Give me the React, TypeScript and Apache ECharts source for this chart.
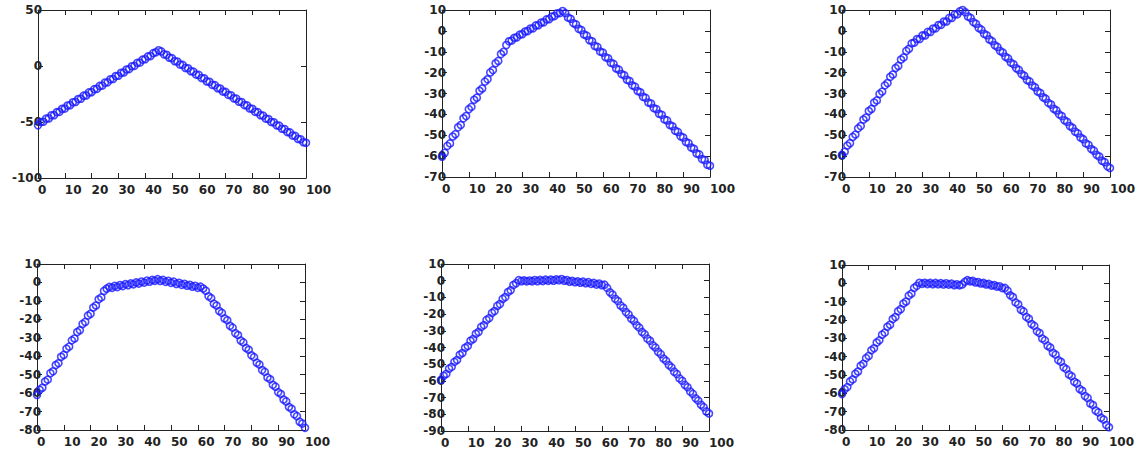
import React, { useEffect, useRef } from "react";
import * as echarts from "echarts";

const X_POS = [
  0, 1, 2, 3, 4, 5, 6, 7, 8, 9, 10, 11, 12, 13, 14, 15, 16, 17, 18, 19, 20,
  21, 22, 23, 24, 25, 26, 27, 28, 29, 30, 31, 32, 33, 34, 35, 36, 37, 38, 39, 40,
  41, 42, 43, 44, 45, 46, 47, 48, 49, 50, 51, 52, 53, 54, 55, 56, 57, 58, 59, 60,
  61, 62, 63, 64, 65, 66, 67, 68, 69, 70, 71, 72, 73, 74, 75, 76, 77, 78, 79, 80,
  81, 82, 83, 84, 85, 86, 87, 88, 89, 90, 91, 92, 93, 94, 95, 96, 97, 98, 99, 100,
];

const PLOT_TL = [
  -53.0, -50.0, -49.8, -47.0, -46.8, -44.0, -43.9, -41.2, -40.9, -38.2, -38.0,
  -35.3, -35.0, -32.4, -32.1, -29.5, -29.2, -26.5, -26.3, -23.6, -23.4,
  -20.7, -20.4, -17.8, -17.5, -14.8, -14.6, -11.9, -11.6, -9.0, -8.7,
  -6.0, -5.8, -3.1, -2.8, -0.2, 0.1, 2.8, 3.0, 5.7, 6.0,
  8.6, 8.9, 11.5, 12.2, 14.0, 13.0, 10.4, 10.0, 7.4, 7.0,
  4.3, 4.0, 1.3, 1.0, -1.7, -2.0, -4.7, -5.0, -7.7, -8.0,
  -10.7, -11.0, -13.8, -14.1, -16.8, -17.1, -19.8, -20.1, -22.8, -23.1,
  -25.8, -26.1, -28.9, -29.2, -31.9, -32.2, -34.9, -35.2, -37.9, -38.2,
  -40.9, -41.2, -43.9, -44.3, -47.0, -47.3, -50.0, -50.3, -53.0, -53.3,
  -56.0, -56.3, -59.0, -59.3, -62.1, -62.4, -65.1, -65.4, -68.1, -68.6,
];

const PLOT_TM = [
  -60.3, -58.4, -55.1, -53.9, -50.6, -49.5, -46.2, -45.1, -41.9, -40.8, -37.5,
  -36.4, -33.0, -32.0, -28.7, -27.6, -24.3, -23.2, -19.9, -18.8, -15.5,
  -14.4, -11.1, -10.0, -6.8, -5.0, -4.6, -3.3, -3.1, -1.8, -1.6,
  -0.3, -0.1, 1.1, 1.2, 2.6, 2.7, 4.0, 4.1, 5.5, 5.6,
  6.9, 7.1, 8.4, 8.5, 9.5, 8.5, 6.4, 5.8, 3.7, 3.1,
  1.0, 0.4, -1.7, -2.3, -4.5, -5.0, -7.2, -7.7, -9.9, -10.4,
  -12.6, -13.1, -15.3, -15.8, -18.0, -18.6, -20.7, -21.3, -23.4, -24.0,
  -26.1, -26.7, -28.8, -29.4, -31.6, -32.1, -34.3, -34.8, -37.0, -37.5,
  -39.7, -40.2, -42.4, -42.9, -45.1, -45.7, -47.8, -48.4, -50.5, -51.1,
  -53.2, -53.8, -55.9, -56.5, -58.7, -59.2, -61.4, -61.9, -64.1, -64.6,
];

const PLOT_TR = [
  -59.5, -57.9, -54.9, -53.8, -50.8, -49.7, -46.7, -45.6, -42.5, -41.5, -38.4,
  -37.4, -34.3, -33.3, -30.2, -29.1, -26.1, -25.0, -22.0, -20.9, -17.8,
  -16.8, -13.7, -12.7, -9.6, -8.6, -6.0, -5.6, -3.9, -3.9, -2.2,
  -2.2, -0.5, -0.5, 1.1, 1.2, 2.8, 2.9, 4.5, 4.5, 6.2,
  6.2, 7.9, 7.9, 9.4, 10.0, 8.9, 6.9, 6.2, 4.2, 3.4,
  1.4, 0.6, -1.4, -2.1, -4.1, -4.9, -6.9, -7.7, -9.6, -10.4,
  -12.4, -13.2, -15.2, -16.0, -17.9, -18.7, -20.7, -21.5, -23.5, -24.2,
  -26.2, -27.0, -29.0, -29.8, -31.8, -32.5, -34.5, -35.3, -37.3, -38.1,
  -40.0, -40.8, -42.8, -43.6, -45.6, -46.4, -48.3, -49.1, -51.1, -51.9,
  -53.9, -54.6, -56.6, -57.4, -59.4, -60.2, -62.2, -62.9, -64.9, -65.7,
];

const PLOT_BL = [
  -61.0, -58.2, -57.1, -53.7, -52.7, -49.2, -48.2, -44.8, -43.8, -40.3, -39.3,
  -35.9, -34.8, -31.4, -30.4, -26.9, -25.9, -22.5, -21.4, -18.0, -17.0,
  -13.6, -12.5, -9.1, -8.1, -4.6, -3.4, -2.4, -2.9, -1.9, -2.5,
  -1.4, -2.0, -0.9, -1.5, -0.5, -1.0, 0.0, -0.6, 0.5, -0.1,
  1.0, 0.4, 1.4, 0.9, 1.8, 0.8, 1.4, 0.3, 0.9, -0.2,
  0.4, -0.8, -0.2, -1.3, -0.7, -1.8, -1.3, -2.3, -1.8, -2.9,
  -2.3, -3.3, -4.5, -7.5, -8.5, -11.5, -12.5, -15.5, -16.5, -19.5,
  -20.5, -23.5, -24.5, -27.5, -28.5, -31.5, -32.5, -35.5, -36.5, -39.5,
  -40.5, -43.5, -44.5, -47.5, -48.5, -51.5, -52.5, -55.5, -56.5, -59.5,
  -60.5, -63.5, -64.5, -67.5, -68.5, -71.5, -72.5, -75.5, -76.5, -78.8,
];

const PLOT_BM = [
  -59.5, -56.9, -55.8, -52.7, -51.6, -48.6, -47.5, -44.4, -43.3, -40.2, -39.1,
  -36.0, -34.9, -31.8, -30.7, -27.7, -26.6, -23.5, -22.4, -19.3, -18.2,
  -15.1, -14.0, -10.9, -9.8, -6.8, -5.7, -2.6, -1.5, 0.3, -0.3,
  0.2, -0.4, 0.1, -0.4, 0.4, -0.3, 0.5, -0.2, 0.6, -0.1,
  0.6, 0.0, 0.8, 0.3, 1.0, 0.0, 0.4, -0.6, -0.1, -0.9,
  -0.4, -1.2, -0.6, -1.5, -0.9, -1.9, -1.3, -2.3, -1.7, -2.7,
  -2.4, -4.3, -6.9, -8.3, -10.8, -12.2, -14.8, -16.2, -18.8, -20.2,
  -22.8, -24.1, -26.7, -28.1, -30.7, -32.1, -34.7, -36.0, -38.6, -40.0,
  -42.6, -44.0, -46.6, -48.0, -50.5, -51.9, -54.5, -55.9, -58.5, -59.9,
  -62.4, -63.8, -66.4, -67.8, -70.4, -71.8, -74.3, -75.7, -78.3, -79.5,
];

const PLOT_BR = [
  -60.4, -57.8, -56.6, -53.5, -52.4, -49.3, -48.1, -45.0, -43.9, -40.8, -39.6,
  -36.5, -35.4, -32.3, -31.1, -28.0, -26.9, -23.7, -22.6, -19.5, -18.4,
  -15.2, -14.1, -11.0, -9.9, -6.7, -5.6, -2.5, -1.4, 0.3, -0.3,
  0.3, -0.4, 0.2, -0.5, 0.2, -0.5, 0.1, -0.6, 0.0, -0.7,
  -0.2, -1.0, -0.5, -1.1, -0.6, 0.8, 1.7, 1.1, 1.3, 0.5,
  0.7, -0.1, 0.2, -0.6, -0.3, -1.2, -0.9, -1.8, -1.6, -2.6,
  -2.5, -4.0, -6.5, -7.5, -10.4, -11.4, -14.4, -15.3, -18.3, -19.3,
  -22.2, -23.2, -26.2, -27.1, -30.1, -31.1, -34.0, -35.0, -37.9, -38.9,
  -41.9, -42.8, -45.8, -46.8, -49.7, -50.7, -53.7, -54.6, -57.6, -58.6,
  -61.5, -62.5, -65.5, -66.4, -69.4, -70.4, -73.3, -74.3, -77.3, -78.5,
];

const PLOTS = [PLOT_TL, PLOT_TM, PLOT_TR, PLOT_BL, PLOT_BM, PLOT_BR];
const Y_MIN = [-100, -70, -70, -80, -90, -80];
const Y_MAX = [50, 10, 10, 10, 10, 10];
const Y_STEP = [50, 10, 10, 10, 10, 10];
const X_MIN = 0;
const X_MAX = 100;
const X_STEP = 10;

const GRIDS = [
  { left: 38, top: 10, width: 268, height: 168 },
  { left: 442, top: 10, width: 268, height: 167 },
  { left: 842, top: 10, width: 268, height: 167 },
  { left: 37, top: 264, width: 268, height: 166 },
  { left: 441, top: 264, width: 268, height: 167 },
  { left: 842, top: 265, width: 267, height: 165 },
];

const AX = "#222222";
const MARK = "#1a1aff";

function buildOption() {
  const label = {
    color: AX,
    fontFamily: "DejaVu Sans",
    fontSize: 12,
    fontWeight: "bold" as const,
  };
  const line = { show: true, onZero: false, lineStyle: { color: AX, width: 1 } };
  const tick = { show: true, inside: true, length: 5, lineStyle: { color: AX, width: 1 } };
  const xAxis: any[] = [];
  const yAxis: any[] = [];
  const series: any[] = [];
  GRIDS.forEach((g, i) => {
    xAxis.push({
      gridIndex: i, type: "value", position: "bottom", min: X_MIN, max: X_MAX, interval: X_STEP,
      axisLine: line, axisTick: tick, splitLine: { show: false },
      axisLabel: { ...label, margin: 6, align: "left" },
    });
    xAxis.push({
      gridIndex: i, type: "value", position: "top", min: X_MIN, max: X_MAX, interval: X_STEP,
      axisLine: line, axisTick: tick, splitLine: { show: false }, axisLabel: { show: false },
    });
    yAxis.push({
      gridIndex: i, type: "value", position: "left", min: Y_MIN[i], max: Y_MAX[i], interval: Y_STEP[i],
      axisLine: line, axisTick: tick, splitLine: { show: false },
      axisLabel: { ...label, margin: -4, padding: [3, 0, 0, 0] },
    });
    yAxis.push({
      gridIndex: i, type: "value", position: "right", min: Y_MIN[i], max: Y_MAX[i], interval: Y_STEP[i],
      axisLine: line, axisTick: tick, splitLine: { show: false }, axisLabel: { show: false },
    });
    series.push({
      type: "scatter",
      xAxisIndex: 2 * i,
      yAxisIndex: 2 * i,
      clip: false,
      symbol: "circle",
      symbolSize: 7,
      itemStyle: { color: "rgba(0,0,0,0)", borderColor: MARK, borderWidth: 1.6 },
      data: X_POS.map((x, j) => [x, PLOTS[i][j]]),
    });
  });
  return {
    animation: false,
    backgroundColor: "#ffffff",
    grid: GRIDS.map((g) => ({ ...g, containLabel: false })),
    xAxis,
    yAxis,
    series,
  };
}

export default function App() {
  const ref = useRef<HTMLDivElement>(null);
  useEffect(() => {
    if (!ref.current) return;
    const chart = echarts.init(ref.current, undefined, { renderer: "svg" });
    chart.setOption(buildOption());
    return () => chart.dispose();
  }, []);
  return (
    <div
      ref={ref}
      style={{ position: "absolute", left: 0, top: 0, width: 1140, height: 450, background: "#fff" }}
    />
  );
}
